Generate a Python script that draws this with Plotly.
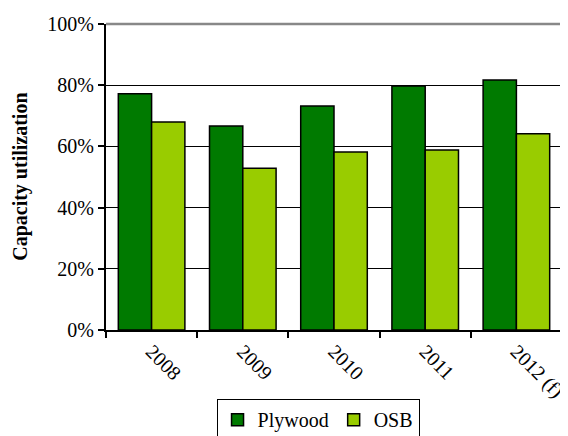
import plotly.graph_objects as go

years = ["2008", "2009", "2010", "2011", "2012 (f)"]
plywood = [0.772, 0.667, 0.732, 0.797, 0.817]
osb = [0.680, 0.529, 0.582, 0.588, 0.641]

FONT = "Liberation Serif"

fig = go.Figure()
fig.add_trace(go.Bar(x=years, y=plywood, name="Plywood",
                     marker=dict(color="#007A00", line=dict(color="black", width=1.5))))
fig.add_trace(go.Bar(x=years, y=osb, name="OSB",
                     marker=dict(color="#99CC00", line=dict(color="black", width=1.5))))

fig.update_layout(
    width=560, height=460,
    margin=dict(l=98, r=6, t=16, b=138),
    paper_bgcolor="white", plot_bgcolor="white",
    font=dict(family=FONT, size=20, color="black"),
    barmode="group", bargap=0.27, bargroupgap=0,
    showlegend=True,
    legend=dict(orientation="h", x=0.465, xanchor="center", y=-0.226, yanchor="top",
                bordercolor="black", borderwidth=1,
                font=dict(family=FONT, size=20, color="black"),
                itemwidth=30, traceorder="normal"),
    xaxis=dict(type="category", tickangle=45, showgrid=False, showline=True,
               linecolor="black", linewidth=2, ticks="outside", tickson="boundaries",
               ticklen=6, tickcolor="black", tickwidth=1.5, automargin=False,
               tickfont=dict(family=FONT, size=20, color="black")),
    yaxis=dict(range=[0, 1], dtick=0.2, tickformat=".0%", showgrid=True,
               gridcolor="black", gridwidth=1, showline=True, linecolor="black",
               linewidth=2, ticks="outside", ticklen=6, tickcolor="black", tickwidth=1.5,
               tickfont=dict(family=FONT, size=20, color="black"), zeroline=False,
               automargin=False),
    annotations=[
        dict(text="<b>Capacity utilization</b>", xref="paper", yref="paper",
             x=-0.189, y=0.5, xanchor="center", yanchor="middle", textangle=-90,
             showarrow=False, font=dict(family=FONT, size=20, color="black")),
    ],
    shapes=[
        dict(type="line", xref="paper", yref="paper", x0=0, x1=1, y0=1, y1=1,
             line=dict(color="#888888", width=2.5)),
        dict(type="line", xref="paper", yref="paper", x0=1, x1=1, y0=0, y1=1,
             line=dict(color="#888888", width=1.5)),
    ],
)

fig.write_html("out.html")
